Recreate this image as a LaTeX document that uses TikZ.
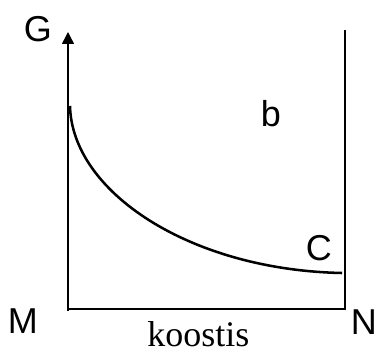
\documentclass[tikz,border=0pt]{standalone}
\usepackage{fontspec}
\setmainfont{Liberation Serif}
\newfontfamily\labelfont{Liberation Sans}
\usetikzlibrary{arrows.meta}

\begin{document}
\begin{tikzpicture}[
    x=0.75pt,y=-0.75pt,
    lbl/.style={inner sep=0pt, anchor=base west, font=\labelfont\fontsize{27}{30}\selectfont},
    axislbl/.style={inner sep=0pt, anchor=base west, font=\fontsize{27}{30}\selectfont},
    axis/.style={-{Triangle[width=9pt,length=9pt]}, line width=1.1pt},
    wall/.style={line width=1.7pt},
    curve/.style={line width=1.9pt}
  ]
    \useasboundingbox (0,0) rectangle (377,352);
    \coordinate (origin) at (68,311);
    \coordinate (top) at (68,32);
    \coordinate (left) at (68,309);
    \coordinate (corner) at (345,309);
    \coordinate (walltop) at (345,30);
    \coordinate (cstart) at (70,106);
    \coordinate (cend) at (342,273);

    \node[lbl] (G) at (23.5,42) {G};
    \node[lbl] (b) at (260.5,127) {b};
    \node[lbl] (C) at (305.5,260) {C};
    \node[lbl] (M) at (7.5,333) {M};
    \node[lbl] (N) at (350.5,334) {N};
    \node[axislbl] (koostis) at (147,346) {koostis};

    \draw[axis] (origin) -- (top);
    \draw[wall] (left) -- (corner) -- (walltop);
    \draw[curve] (cstart) .. controls (72,192) and (190,270) .. (cend);
  \end{tikzpicture}
\end{document}
